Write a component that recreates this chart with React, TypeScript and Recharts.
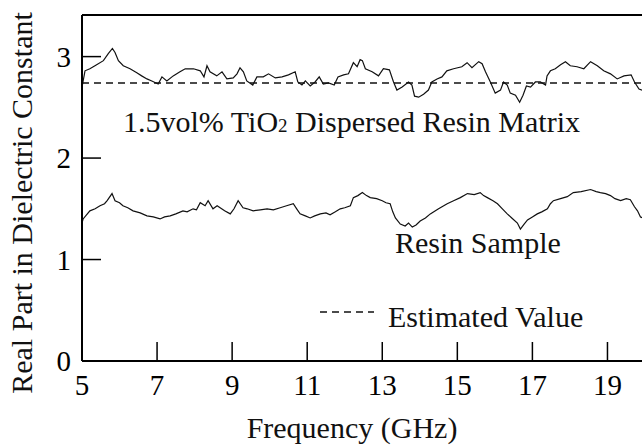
import { LineChart, Line, XAxis, YAxis } from 'recharts';

const FONT = '"Liberation Serif", "Times New Roman", serif';

const xTicks = [5, 7, 9, 11, 13, 15, 17, 19];
const yTicks = [0, 1, 2, 3];

const matrixPoints: [number, number][] = [
  [5.0, 2.7], [5.08, 2.86], [5.21, 2.88], [5.39, 2.92], [5.57, 2.96], [5.7, 3.03], [5.81, 3.08], [5.88, 3.04],
  [5.97, 2.96], [6.1, 2.91], [6.28, 2.88], [6.46, 2.84], [6.59, 2.81], [6.73, 2.78], [6.86, 2.76], [7.03, 2.73],
  [7.13, 2.8], [7.26, 2.76], [7.43, 2.81], [7.61, 2.85], [7.75, 2.88], [7.97, 2.88], [8.15, 2.86], [8.25, 2.8],
  [8.33, 2.91], [8.41, 2.85], [8.59, 2.81], [8.73, 2.85], [8.86, 2.78], [9.03, 2.79], [9.13, 2.83], [9.21, 2.89],
  [9.3, 2.85], [9.39, 2.76], [9.55, 2.72], [9.66, 2.8], [9.83, 2.8], [9.97, 2.83], [10.15, 2.79], [10.33, 2.8],
  [10.5, 2.82], [10.68, 2.85], [10.75, 2.75], [10.86, 2.72], [10.95, 2.76], [11.08, 2.71], [11.21, 2.75], [11.32, 2.8],
  [11.43, 2.73], [11.57, 2.74], [11.72, 2.72], [11.82, 2.8], [11.97, 2.82], [12.1, 2.83], [12.23, 2.94], [12.33, 2.9],
  [12.41, 2.97], [12.47, 2.96], [12.55, 2.88], [12.73, 2.85], [12.9, 2.81], [13.03, 2.88], [13.19, 2.87], [13.3, 2.75],
  [13.39, 2.67], [13.53, 2.7], [13.7, 2.75], [13.79, 2.72], [13.86, 2.61], [13.97, 2.6], [14.1, 2.63], [14.23, 2.67],
  [14.32, 2.75], [14.46, 2.78], [14.59, 2.8], [14.72, 2.86], [14.9, 2.88], [15.12, 2.9], [15.26, 2.94], [15.39, 2.89],
  [15.57, 2.95], [15.66, 2.93], [15.75, 2.85], [15.88, 2.75], [16.01, 2.64], [16.15, 2.67], [16.23, 2.75], [16.33, 2.72],
  [16.41, 2.64], [16.55, 2.62], [16.66, 2.55], [16.75, 2.62], [16.84, 2.71], [16.95, 2.7], [17.08, 2.75], [17.21, 2.75],
  [17.35, 2.72], [17.39, 2.81], [17.48, 2.86], [17.61, 2.88], [17.75, 2.92], [17.88, 2.95], [18.01, 2.91], [18.19, 2.9],
  [18.37, 2.88], [18.55, 2.95], [18.73, 2.91], [18.9, 2.86], [19.08, 2.83], [19.26, 2.78], [19.44, 2.81], [19.63, 2.82],
  [19.72, 2.75], [19.84, 2.68], [20.0, 2.66],
];

const resinPoints: [number, number][] = [
  [5.0, 1.36], [5.03, 1.4], [5.12, 1.44], [5.21, 1.48], [5.35, 1.5], [5.48, 1.53], [5.6, 1.55], [5.67, 1.58], [5.8, 1.65],
  [5.88, 1.58], [6.0, 1.56], [6.09, 1.53], [6.22, 1.51], [6.36, 1.48], [6.55, 1.46], [6.73, 1.43], [6.9, 1.42],
  [7.08, 1.4], [7.2, 1.42], [7.35, 1.43], [7.5, 1.45], [7.69, 1.48], [7.8, 1.47], [7.96, 1.5], [8.05, 1.49],
  [8.15, 1.56], [8.28, 1.53], [8.36, 1.58], [8.49, 1.5], [8.6, 1.53], [8.68, 1.51], [8.8, 1.48], [8.95, 1.45],
  [9.05, 1.5], [9.16, 1.58], [9.29, 1.51], [9.4, 1.5], [9.56, 1.48], [9.75, 1.49], [9.93, 1.5], [10.1, 1.49],
  [10.28, 1.51], [10.45, 1.53], [10.63, 1.55], [10.72, 1.5], [10.81, 1.45], [10.95, 1.43], [11.08, 1.41], [11.2, 1.43],
  [11.35, 1.45], [11.5, 1.46], [11.61, 1.44], [11.75, 1.47], [11.88, 1.5], [12.0, 1.51], [12.15, 1.53], [12.23, 1.61],
  [12.35, 1.63], [12.47, 1.66], [12.58, 1.63], [12.68, 1.61], [12.85, 1.6], [13.0, 1.58], [13.1, 1.56], [13.21, 1.55],
  [13.28, 1.47], [13.35, 1.41], [13.48, 1.35], [13.61, 1.33], [13.7, 1.36], [13.8, 1.32], [13.9, 1.34], [14.01, 1.38],
  [14.15, 1.41], [14.28, 1.45], [14.5, 1.5], [14.73, 1.55], [14.9, 1.58], [15.08, 1.61], [15.27, 1.65], [15.45, 1.64],
  [15.61, 1.66], [15.7, 1.63], [15.8, 1.61], [15.95, 1.58], [16.07, 1.55], [16.2, 1.5], [16.33, 1.45], [16.45, 1.41],
  [16.6, 1.36], [16.68, 1.3], [16.78, 1.35], [16.87, 1.39], [17.0, 1.42], [17.13, 1.45], [17.25, 1.47], [17.4, 1.5],
  [17.48, 1.55], [17.56, 1.58], [17.75, 1.6], [17.93, 1.62], [18.09, 1.66], [18.3, 1.67], [18.55, 1.69], [18.7, 1.67],
  [18.81, 1.66], [18.95, 1.65], [19.08, 1.63], [19.2, 1.6], [19.35, 1.58], [19.5, 1.6], [19.61, 1.59], [19.72, 1.52],
  [19.8, 1.48], [19.88, 1.42], [20.0, 1.4],
];

const estimatedFreq = [5, 20];
const estimatedValue = 2.74;

const matrixData = matrixPoints.map(([f, v]) => ({ f, v }));
const resinData = resinPoints.map(([f, v]) => ({ f, v }));
const estimatedData = estimatedFreq.map((f) => ({ f, v: estimatedValue }));

const TICK_LEN = 19;

function BottomTick({ x, y, payload }: any) {
  return (
    <g>
      <line x1={x} y1={y} x2={x} y2={y - TICK_LEN} stroke="#000" strokeWidth={1.5} />
      <text x={x} y={y + 34} textAnchor="middle" fontSize={29} fontFamily={FONT} fill="#000">
        {payload.value}
      </text>
    </g>
  );
}

function TopTick({ x, y }: any) {
  return <line x1={x} y1={y} x2={x} y2={y + TICK_LEN} stroke="#000" strokeWidth={1.5} />;
}

function LeftTick({ x, y, payload }: any) {
  return (
    <g>
      <line x1={x} y1={y} x2={x + TICK_LEN} y2={y} stroke="#000" strokeWidth={1.5} />
      <text x={x - 11} y={y + 10} textAnchor="end" fontSize={29} fontFamily={FONT} fill="#000">
        {payload.value}
      </text>
    </g>
  );
}

function RightTick({ x, y }: any) {
  return <line x1={x} y1={y} x2={x - TICK_LEN} y2={y} stroke="#000" strokeWidth={1.5} />;
}

const textStyle: React.CSSProperties = {
  position: 'absolute',
  fontFamily: FONT,
  fontSize: 30,
  lineHeight: '30px',
  color: '#111',
  whiteSpace: 'nowrap',
};

export default function App() {
  const axisLine = { stroke: '#000', strokeWidth: 2 };
  return (
    <div style={{ position: 'fixed', left: 0, top: 0, width: 642, height: 445, overflow: 'hidden', background: '#fff' }}>
      <LineChart width={660} height={445} margin={{ top: 14, right: 14, bottom: 83, left: 81 }}>
        <XAxis xAxisId="b" dataKey="f" type="number" domain={[5, 20]} ticks={xTicks} interval={0}
          height={1} tickSize={0} tickMargin={0} tickLine={false} axisLine={axisLine} tick={<BottomTick />} />
        <XAxis xAxisId="t" orientation="top" dataKey="f" type="number" domain={[5, 20]} ticks={xTicks} interval={0}
          height={1} tickSize={0} tickMargin={0} tickLine={false} axisLine={axisLine} tick={<TopTick />} />
        <YAxis yAxisId="l" type="number" domain={[0, 3.41]} ticks={yTicks} interval={0}
          width={1} tickSize={0} tickMargin={0} tickLine={false} axisLine={axisLine} tick={<LeftTick />} />
        <YAxis yAxisId="r" orientation="right" type="number" domain={[0, 3.41]} ticks={yTicks} interval={0}
          width={1} tickSize={0} tickMargin={0} tickLine={false} axisLine={axisLine} tick={<RightTick />} />
        <Line xAxisId="b" yAxisId="l" data={estimatedData} dataKey="v" type="linear" stroke="#111"
          strokeWidth={1.3} strokeDasharray="7 5" dot={false} isAnimationActive={false} />
        <Line xAxisId="b" yAxisId="l" data={matrixData} dataKey="v" type="linear" stroke="#111"
          strokeWidth={1.2} dot={false} isAnimationActive={false} />
        <Line xAxisId="b" yAxisId="l" data={resinData} dataKey="v" type="linear" stroke="#111"
          strokeWidth={1.2} dot={false} isAnimationActive={false} />
      </LineChart>

      <div style={{ ...textStyle, left: 123, top: 107 }}>
        1.5vol% TiO<span style={{ fontSize: 19 }}>2</span> Dispersed Resin Matrix
      </div>
      <div style={{ ...textStyle, left: 395, top: 228 }}>Resin Sample</div>
      <svg style={{ position: 'absolute', left: 318, top: 306 }} width={56} height={12}>
        <line x1={2} y1={6} x2={56} y2={6} stroke="#111" strokeWidth={1.3} strokeDasharray="7 5" />
      </svg>
      <div style={{ ...textStyle, left: 388, top: 302 }}>Estimated Value</div>
      <div style={{ ...textStyle, left: 352, top: 428, transform: 'translate(-50%, -50%)' }}>Frequency (GHz)</div>
      <div style={{ ...textStyle, left: 22, top: 203, transform: 'translate(-50%, -50%) rotate(-90deg)' }}>
        Real Part in Dielectric Constant
      </div>
    </div>
  );
}
